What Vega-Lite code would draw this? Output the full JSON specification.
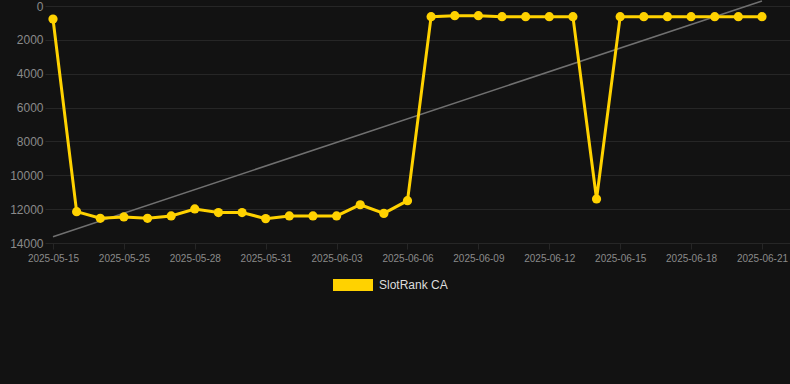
{
  "$schema": "https://vega.github.io/schema/vega-lite/v6.json",
  "autosize": "none",
  "width": 745,
  "height": 237,
  "padding": {"left": 45, "top": 6, "right": 0, "bottom": 141},
  "background": "#121212",
  "config": {
    "view": {"stroke": null},
    "font": "Liberation Sans",
    "axis": {"gridColor": "#262626", "tickColor": "#262626", "domain": false, "labelColor": "#8a8a8a"}
  },
  "data": {
    "values": [
      {"date": "2025-05-15", "rank": 770, "trend": 13630},
      {"date": "2025-05-23", "rank": 12150},
      {"date": "2025-05-24", "rank": 12540},
      {"date": "2025-05-25", "rank": 12460},
      {"date": "2025-05-26", "rank": 12540},
      {"date": "2025-05-27", "rank": 12400},
      {"date": "2025-05-28", "rank": 11990},
      {"date": "2025-05-29", "rank": 12200},
      {"date": "2025-05-30", "rank": 12200},
      {"date": "2025-05-31", "rank": 12560},
      {"date": "2025-06-01", "rank": 12400},
      {"date": "2025-06-02", "rank": 12400},
      {"date": "2025-06-03", "rank": 12400},
      {"date": "2025-06-04", "rank": 11740},
      {"date": "2025-06-05", "rank": 12250},
      {"date": "2025-06-06", "rank": 11500},
      {"date": "2025-06-07", "rank": 630},
      {"date": "2025-06-08", "rank": 570},
      {"date": "2025-06-09", "rank": 570},
      {"date": "2025-06-10", "rank": 630},
      {"date": "2025-06-11", "rank": 630},
      {"date": "2025-06-12", "rank": 630},
      {"date": "2025-06-13", "rank": 630},
      {"date": "2025-06-14", "rank": 11400},
      {"date": "2025-06-15", "rank": 630},
      {"date": "2025-06-16", "rank": 630},
      {"date": "2025-06-17", "rank": 630},
      {"date": "2025-06-18", "rank": 630},
      {"date": "2025-06-19", "rank": 630},
      {"date": "2025-06-20", "rank": 630},
      {"date": "2025-06-21", "rank": 630, "trend": -300}
    ]
  },
  "encoding": {
    "x": {
      "field": "date",
      "type": "ordinal",
      "sort": "ascending",
      "scale": {"type": "point", "padding": 0.762, "align": 0.222},
      "axis": {
        "title": null,
        "labelAngle": 0,
        "labelFontSize": 10,
        "tickSize": 6,
        "labelPadding": 4,
        "labelOverlap": false,
        "values": ["2025-05-15", "2025-05-25", "2025-05-28", "2025-05-31", "2025-06-03", "2025-06-06", "2025-06-09", "2025-06-12", "2025-06-15", "2025-06-18", "2025-06-21"]
      }
    }
  },
  "layer": [
    {
      "transform": [{"filter": "isValid(datum.trend)"}],
      "mark": {"type": "line", "color": "#707070", "strokeWidth": 1.5},
      "encoding": {
        "y": {
          "field": "trend",
          "type": "quantitative",
          "scale": {"domain": [0, 14000], "reverse": true, "nice": false},
          "axis": {"title": null, "values": [0, 2000, 4000, 6000, 8000, 10000, 12000, 14000], "format": "d", "labelFontSize": 12, "ticks": false, "labelPadding": 2, "labelOverlap": false}
        }
      }
    },
    {
      "mark": {"type": "line", "strokeWidth": 3, "point": {"filled": true, "size": 85}},
      "encoding": {
        "y": {
          "field": "rank",
          "type": "quantitative",
          "scale": {"domain": [0, 14000], "reverse": true, "nice": false},
          "axis": {"title": null, "values": [0, 2000, 4000, 6000, 8000, 10000, 12000, 14000], "format": "d", "labelFontSize": 12, "ticks": false, "labelPadding": 2, "labelOverlap": false}
        },
        "color": {
          "datum": "SlotRank CA",
          "type": "nominal",
          "scale": {"range": ["#FFD200"]},
          "legend": {
            "title": null,
            "orient": "none",
            "legendX": 288,
            "legendY": 259,
            "symbolType": "M-1,-0.3H1V0.3H-1Z",
            "symbolSize": 1600,
            "symbolStrokeWidth": 0,
            "labelColor": "#dddddd",
            "labelFontSize": 12,
            "labelOffset": 6
          }
        }
      }
    }
  ]
}
